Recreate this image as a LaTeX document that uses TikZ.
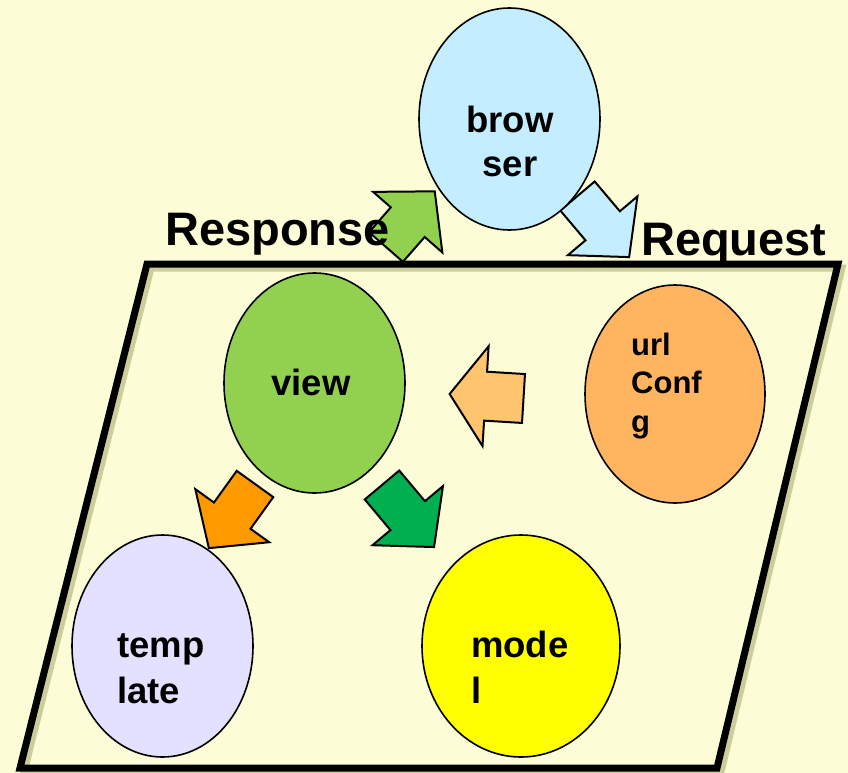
\documentclass[tikz,border=0pt]{standalone}
\usepackage{fontspec}
\setmainfont{Liberation Sans}
\usetikzlibrary{shapes.geometric}
\definecolor{bg}{RGB}{252,252,214}
\definecolor{shadowc}{RGB}{160,160,100}
\definecolor{browc}{RGB}{196,238,255}
\definecolor{viewc}{RGB}{146,208,80}
\definecolor{urlc}{RGB}{255,180,96}
\definecolor{urlarr}{RGB}{255,196,110}
\definecolor{tmplc}{RGB}{228,224,255}
\definecolor{modelc}{RGB}{255,255,0}
\definecolor{darkor}{RGB}{255,153,0}
\definecolor{darkgr}{RGB}{0,176,80}
\newcommand{\blockarr}[8]{%
  \begin{scope}[shift={(#1,#2)},rotate=#3]
    \draw[blk,fill=#8] (0,{-#5/2}) -- ({#4-#7},{-#5/2}) -- ({#4-#7},{-#6/2})
      -- (#4,0) -- ({#4-#7},{#6/2}) -- ({#4-#7},{#5/2}) -- (0,{#5/2}) -- cycle;
  \end{scope}}
\begin{document}
\begin{tikzpicture}[x=1pt,y=-1pt,
  oval/.style={ellipse,draw=black,line width=1.6pt,inner sep=0pt},
  blk/.style={draw=black,line width=2pt,line join=miter},
  frame/.style={draw=black,line width=7pt,line join=miter},
  big/.style={font=\fontsize{47}{54}\bfseries\selectfont,inner sep=0pt,anchor=base west},
  lbl/.style={font=\fontsize{36.5}{44}\bfseries\selectfont,inner sep=0pt,anchor=base west},
  lblc/.style={lbl,anchor=base},
  small/.style={font=\fontsize{31}{36}\bfseries\selectfont,inner sep=0pt,anchor=base west}]
\useasboundingbox (0,0) rectangle (848,773);
\fill[bg] (0,0) rectangle (848,773);
% shadow of the frame
\draw[draw=shadowc,line width=7pt,opacity=0.5,line join=miter]
  (151,268) -- (842,268) -- (721,772) -- (24,772) -- cycle;
% block arrows
\blockarr{386}{247}{48.8}{74}{45}{92}{41}{viewc}
\blockarr{577.5}{196}{-49.8}{80}{45}{91}{41}{browc}
\blockarr{523.5}{398.5}{176.5}{74}{49}{100}{36}{urlarr}
\blockarr{255}{484}{-125.7}{79}{45}{91}{40}{darkor}
\blockarr{382}{485}{-50}{81}{45}{92}{41}{darkgr}
% frame
\draw[frame] (147,264) -- (838,264) -- (717,768) -- (20,768) -- cycle;
% ellipses
\node[oval,fill=browc,minimum width=181pt,minimum height=222pt] (browser) at (509.5,119) {};
\node[oval,fill=viewc,minimum width=181pt,minimum height=220pt] (view) at (314.5,383) {};
\node[oval,fill=urlc,minimum width=180pt,minimum height=218pt] (url) at (675,394) {};
\node[oval,fill=tmplc,minimum width=181pt,minimum height=222pt] (tmpl) at (162.5,646) {};
\node[oval,fill=modelc,minimum width=198pt,minimum height=222pt] (model) at (521,646) {};
% texts
\node[big] (resp) at (165,245) {Response};
\node[big] (req) at (641,255) {Request};
\node[lblc] (bt1) at (510,132) {brow};
\node[lblc] (bt2) at (510,176) {ser};
\node[lblc] (vt) at (311,395) {view};
\node[small] (ut1) at (631,355) {url};
\node[small] (ut2) at (631,393) {Conf};
\node[small] (ut3) at (631,432) {g};
\node[lbl] (tt1) at (117,657) {temp};
\node[lbl] (tt2) at (117,703) {late};
\node[lbl] (mt1) at (471,657) {mode};
\node[lbl] (mt2) at (471,703) {l};
\end{tikzpicture}
\end{document}
